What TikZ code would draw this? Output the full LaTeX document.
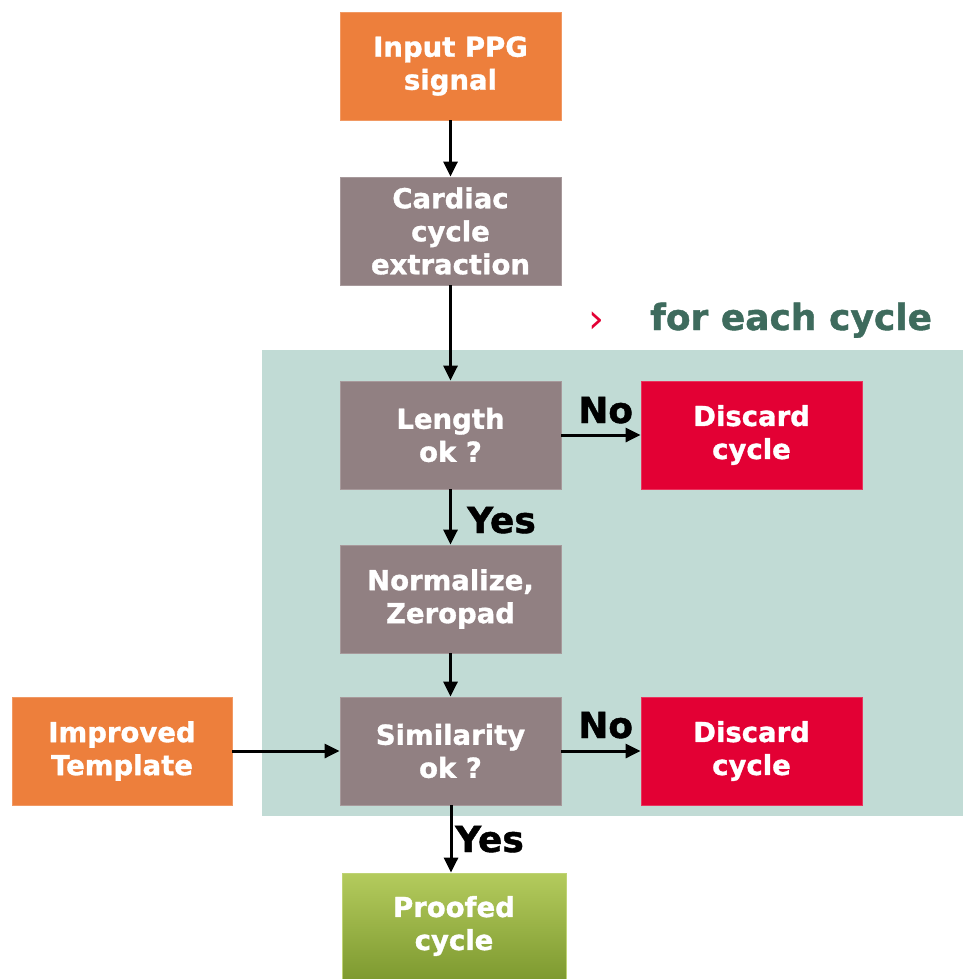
\documentclass[tikz,border=0pt]{standalone}
\usepackage{fontspec}
\setmainfont{DejaVu Sans}[BoldFeatures={FakeBold=1.2}]
\usetikzlibrary{arrows.meta}

\definecolor{inorange}{HTML}{ED7F3C}
\definecolor{stepgray}{HTML}{918082}
\definecolor{discardred}{HTML}{E30034}
\definecolor{loopbg}{HTML}{C1DBD5}
\definecolor{looptext}{HTML}{3E6B5D}
\definecolor{greentop}{HTML}{B4CB5D}
\definecolor{greenbot}{HTML}{7E9A30}

\tikzset{
  box/.style={rectangle, minimum width=221pt, minimum height=108pt, inner sep=0pt,
    align=center, text=white, font=\fontsize{27.5}{33}\selectfont\bfseries},
  inbox/.style={box, fill=inorange, draw=inorange!80!white, line width=0.8pt},
  procbox/.style={box, fill=stepgray, draw=stepgray!80!white, line width=0.8pt},
  dropbox/.style={box, fill=discardred, draw=discardred!80!white, line width=0.8pt},
  okbox/.style={box, top color=greentop, bottom color=greenbot, draw=greentop!85!white, line width=0.8pt},
  flow/.style={line width=3pt, -{Triangle[length=15pt,width=14pt]}},
  decision/.style={font=\fontsize{36}{38}\selectfont\bfseries, text=black, inner sep=0pt}
}

\begin{document}
\begin{tikzpicture}[x=1pt,y=-1pt]
  \useasboundingbox (0,0) rectangle (963,979);

  % loop region
  \fill[loopbg] (262,350) rectangle (963,816);
  \node[anchor=base west, text=discardred, font=\fontsize{40}{42}\selectfont, inner sep=0pt] (chev) at (588,332) {›};
  \node[anchor=base west, text=looptext, font=\fontsize{36}{38}\selectfont\bfseries, inner sep=0pt] (looplbl) at (650,330) {for each cycle};

  % blocks
  \node[inbox]   (inp)   at (450.5,66)  {Input PPG\\signal};
  \node[procbox] (cce)   at (450.5,231) {Cardiac\\cycle\\extraction};
  \node[procbox] (len)   at (450.5,435) {Length\\ok ?};
  \node[dropbox] (dis1)  at (751.5,435) {Discard\\cycle};
  \node[procbox] (norm)  at (450.5,599) {Normalize,\\Zeropad};
  \node[procbox] (sim)   at (450.5,751) {Similarity\\ok ?};
  \node[dropbox] (dis2)  at (751.5,751) {Discard\\cycle};
  \node[inbox, minimum width=220pt] (tmpl) at (122,751) {Improved\\Template};
  \node[okbox, minimum width=224pt, minimum height=106pt] (proof) at (454,926) {Proofed\\cycle};

  % connectors
  \draw[flow] (inp) -- (cce);
  \draw[flow] (cce) -- (len);
  \draw[flow] (len) -- (norm);
  \draw[flow] (norm) -- (sim);
  \draw[flow] (len) -- (dis1);
  \draw[flow] (sim) -- (dis2);
  \draw[flow] (tmpl) -- (sim);
  \draw[flow] (sim.south -| 451,0) -- (proof.north -| 451,0);

  % branch labels
  \node[decision, anchor=base west] (no1)  at (578,423) {No};
  \node[decision, anchor=base west] (no2)  at (578,738) {No};
  \node[decision, anchor=base west] (yes1) at (467,533) {Yes};
  \node[decision, anchor=base west] (yes2) at (455,852) {Yes};
\end{tikzpicture}
\end{document}
